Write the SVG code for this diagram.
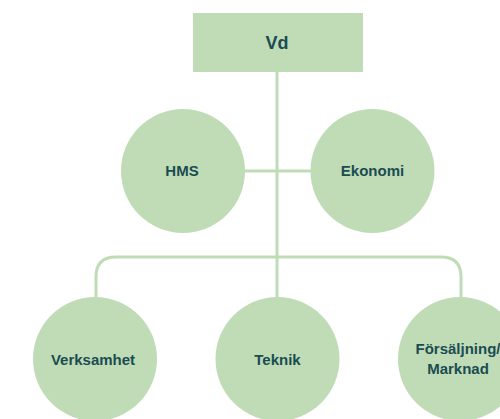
<svg xmlns="http://www.w3.org/2000/svg" width="500" height="419" viewBox="0 0 500 419">
<style>
.n{fill:#bfdcb6}
.c{fill:none;stroke:#bfdcb6;stroke-width:3}
.t{font-family:"Liberation Sans",Arial,sans-serif;font-weight:bold;font-size:15px;fill:#1b4c52;text-anchor:middle}
</style>
<rect width="500" height="419" fill="#ffffff"/>
<g id="connectors">
<path class="c" d="M277 72 V300"/>
<path class="c" d="M245 171 H311"/>
<path class="c" d="M96 298 V277 Q96 257 116 257 H441 Q461 257 461 277 V298"/>
</g>
<g id="vd"><rect class="n" x="193" y="13" width="170" height="59"/><text class="t" x="277" y="49" style="font-size:18px">Vd</text></g>
<g id="hms"><circle class="n" cx="183" cy="171" r="62"/><text class="t" x="182" y="176">HMS</text></g>
<g id="ekonomi"><circle class="n" cx="372.5" cy="171" r="62"/><text class="t" x="372.5" y="176">Ekonomi</text></g>
<g id="verksamhet"><circle class="n" cx="95" cy="359" r="62"/><text class="t" x="93" y="365">Verksamhet</text></g>
<g id="teknik"><circle class="n" cx="277.5" cy="359" r="62"/><text class="t" x="277.5" y="365">Teknik</text></g>
<g id="forsaljning"><circle class="n" cx="460" cy="359" r="62"/><text class="t" x="458" y="354">Försäljning/</text><text class="t" x="458" y="374">Marknad</text></g>
</svg>
